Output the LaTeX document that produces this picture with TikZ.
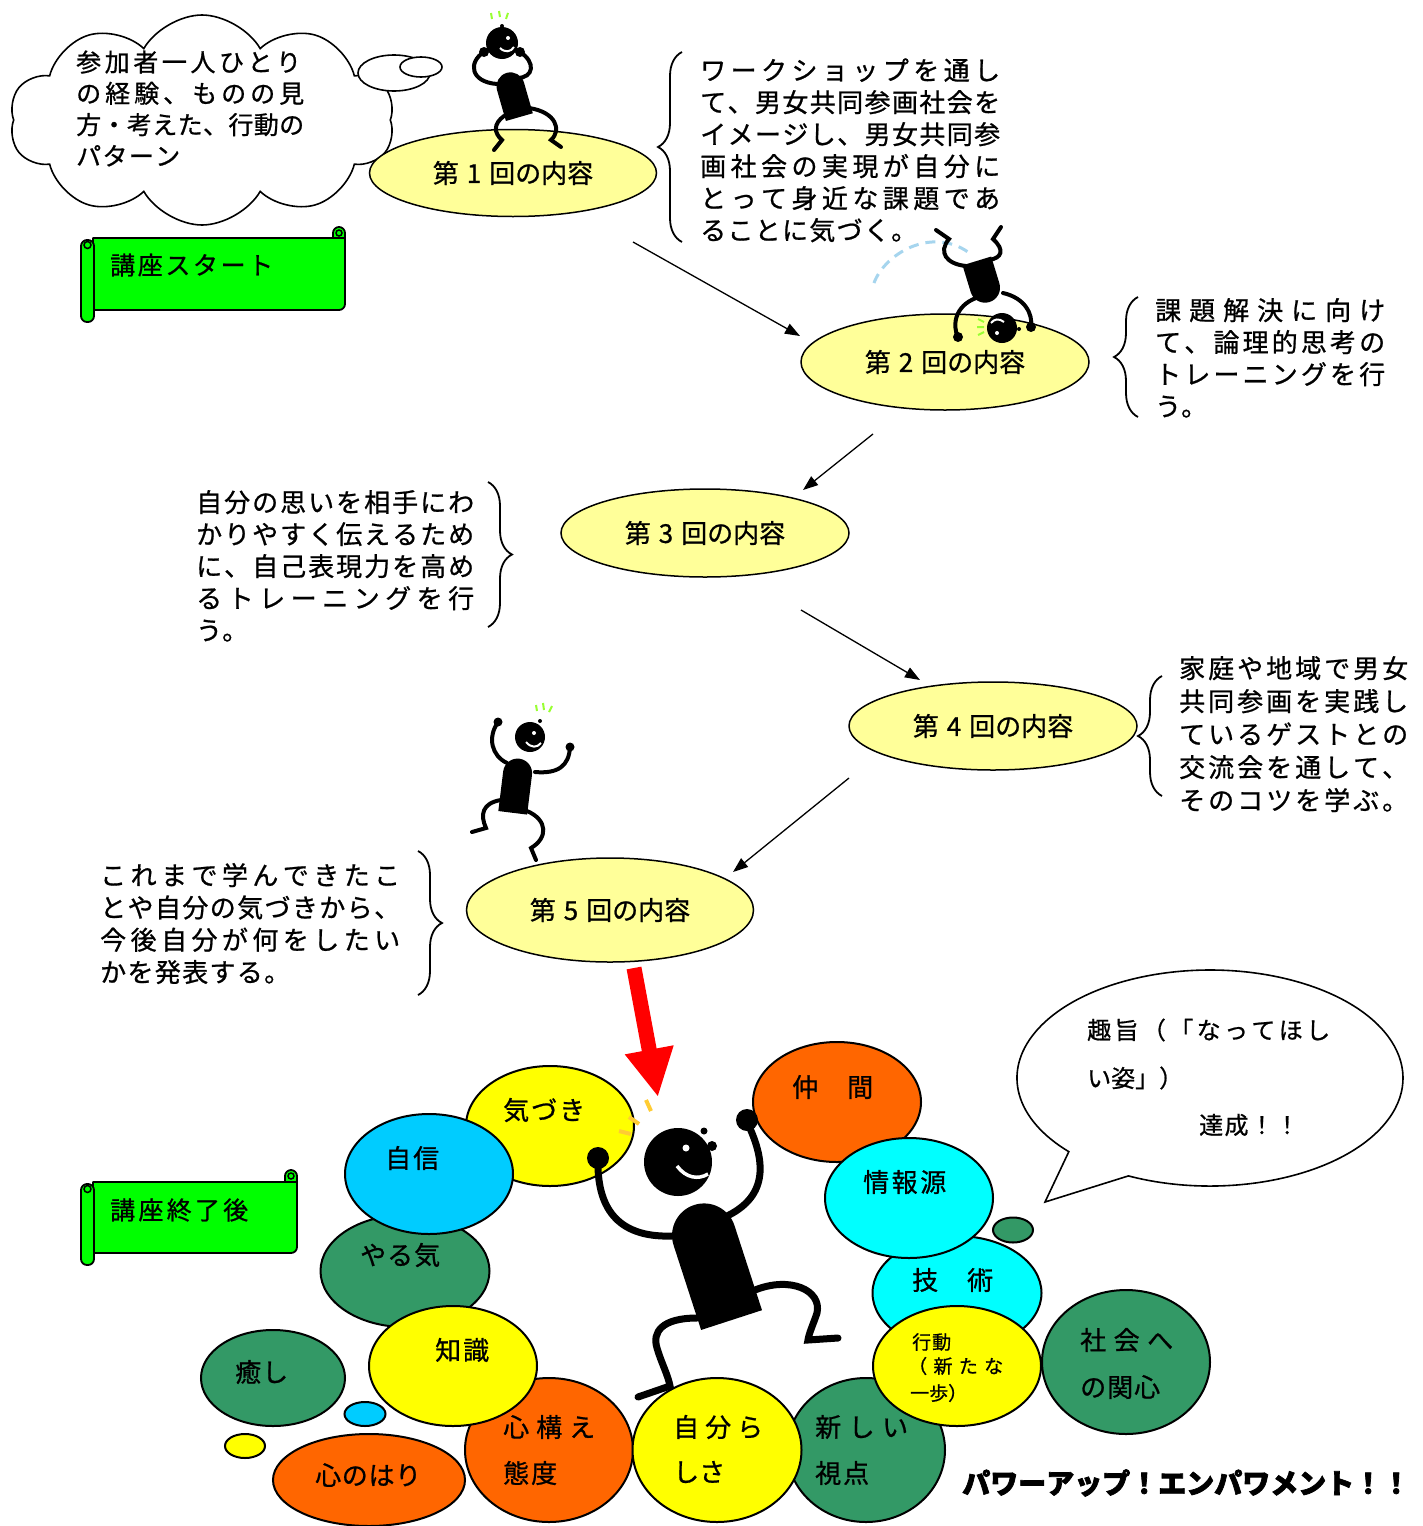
\documentclass[tikz,border=0pt]{standalone}
\usepackage{fontspec}
\setmainfont{Noto Sans CJK JP}[FakeBold=0.8]
\newfontfamily\popfont[FakeBold=2.5]{Noto Sans CJK JP}
\usetikzlibrary{shapes.geometric,shapes.symbols,arrows.meta,decorations.pathreplacing}

\definecolor{paleyellow}{HTML}{FFFF99}
\definecolor{bubyellow}{HTML}{FFFF00}
\definecolor{buborange}{HTML}{FF6600}
\definecolor{bubcyan}{HTML}{00FFFF}
\definecolor{bubsky}{HTML}{00CCFF}
\definecolor{bubgreen}{HTML}{339966}
\definecolor{scrollgreen}{HTML}{00FF00}
\definecolor{tickgreen}{HTML}{99FF33}
\definecolor{tickgold}{HTML}{FFCC33}
\definecolor{swingblue}{HTML}{A6D5EE}

% a line of Japanese text spread evenly over a given width
\makeatletter
\newcommand\jl[2]{\hbox to #1{\def\jl@sep{}\@tfor\jl@c:=#2\do{\jl@sep\jl@c\def\jl@sep{\hfil}}}}
\makeatother
% a block of lines whose baseline is the first line's
\newcommand\jblock[2]{\vtop{\baselineskip=#1\lineskiplimit=-100pt\lineskip=0pt #2}}

\begin{document}
\begin{tikzpicture}[x=1pt,y=1pt,
  session/.style={ellipse, draw, line width=1.5pt, fill=paleyellow, inner sep=0pt,
    font=\fontsize{26pt}{30pt}\selectfont},
  bub/.style={ellipse, draw, line width=2pt, inner sep=0pt},
  lab/.style={inner sep=0pt, anchor=west, font=\fontsize{26pt}{30pt}\selectfont},
  para/.style={inner sep=0pt, anchor=base west, font=\fontsize{26pt}{32pt}\selectfont},
  flow/.style={line width=1.3pt, -{Triangle[length=15pt,width=11pt]}},
  brc/.style={decorate, decoration={brace, amplitude=24pt}, line width=1.8pt},
  limb/.style={line width=4pt, line cap=round},
  biglimb/.style={line width=7pt, line cap=round},
  spark/.style={tickgreen, line width=2pt},
  scroll/.style={draw, line width=1.8pt, fill=scrollgreen, line join=round},
]
\fill[white] (0,0) rectangle (1422,-1526);
\useasboundingbox (0,0) rectangle (1422,-1526);

% ---------- thought cloud ----------
\node[cloud, cloud puffs=10, cloud puff arc=120, aspect=1.83, draw, line width=1.6pt,
  fill=white, minimum width=385pt, minimum height=210pt, inner sep=0pt] (cloud) at (202,-120) {};
\node[ellipse, draw, line width=1.6pt, fill=white, minimum width=72pt, minimum height=36pt,
  inner sep=0pt] (puff1) at (394,-73) {};
\node[ellipse, draw, line width=1.6pt, fill=white, minimum width=42pt, minimum height=20pt,
  inner sep=0pt] (puff2) at (421,-67) {};
\node[para, font=\fontsize{25pt}{31pt}\selectfont] (cloudtext) at (76,-71.5)
  {\jblock{31.3pt}{\jl{225pt}{参加者一人ひとり}\jl{228pt}{の経験、ものの見}\jl{228pt}{方・考えた、行動の}\jl{104pt}{パターン}}};

% ---------- scroll banners ----------
\draw[scroll] (93,-238) -- (345,-238) -- (345,-304) arc[start angle=0,end angle=-90,radius=6] -- (93,-310) -- cycle;
\draw[scroll] (333,-238) -- (333,-233) arc[start angle=180,end angle=0,radius=6] -- (345,-238) -- cycle;
\draw[line width=1.5pt] (339,-233) circle (3);
\draw[scroll, rounded corners=6pt] (81,-240) rectangle (94,-322);
\draw[line width=1.5pt] (87.5,-245) circle (3.5);
\node[lab, font=\fontsize{25pt}{28pt}\selectfont] (start) at (110,-265) {\jl{163pt}{講座スタート}};

\draw[scroll] (93,-1182) -- (297,-1182) -- (297,-1247) arc[start angle=0,end angle=-90,radius=6] -- (93,-1253) -- cycle;
\draw[scroll] (285,-1182) -- (285,-1176) arc[start angle=180,end angle=0,radius=6] -- (297,-1182) -- cycle;
\draw[line width=1.5pt] (291,-1176) circle (3);
\draw[scroll, rounded corners=6pt] (81,-1184) rectangle (94,-1265);
\draw[line width=1.5pt] (87.5,-1189) circle (3.5);
\node[lab, font=\fontsize{25pt}{28pt}\selectfont] (after) at (110,-1210) {\jl{138pt}{講座終了後}};

% ---------- sessions ----------
\node[session, minimum width=287pt, minimum height=87pt] (s1) at (513,-173) {第\hspace{8pt}1\hspace{8pt}回の内容};
\node[session, minimum width=288pt, minimum height=96pt] (s2) at (945,-362) {第\hspace{8pt}2\hspace{8pt}回の内容};
\node[session, minimum width=288pt, minimum height=88pt] (s3) at (705,-533) {第\hspace{8pt}3\hspace{8pt}回の内容};
\node[session, minimum width=288pt, minimum height=88pt] (s4) at (993,-726) {第\hspace{8pt}4\hspace{8pt}回の内容};
\node[session, minimum width=287pt, minimum height=104pt] (s5) at (610,-910) {第\hspace{8pt}5\hspace{8pt}回の内容};

\coordinate (a1s) at (633,-242); \coordinate (a1e) at (800,-336);
\coordinate (a2s) at (873,-434); \coordinate (a2e) at (803,-490);
\coordinate (a3s) at (801,-610); \coordinate (a3e) at (920,-680);
\coordinate (a4s) at (849,-778); \coordinate (a4e) at (733,-872);
\draw[flow] (a1s) -- (a1e);
\draw[flow] (a2s) -- (a2e);
\draw[flow] (a3s) -- (a3e);
\draw[flow] (a4s) -- (a4e);

% ---------- explanations with braces ----------
\draw[brc] (682,-242) -- (682,-52);
\node[para] (p1) at (700,-80) {\jblock{32pt}{%
  \jl{300pt}{ワークショップを通し}\jl{300pt}{て、男女共同参画社会を}\jl{300pt}{イメージし、男女共同参}%
  \jl{300pt}{画社会の実現が自分に}\jl{300pt}{とって身近な課題であ}\jl{217pt}{ることに気づく。}}};

\draw[brc] (1138,-417) -- (1138,-297);
\node[para] (p2) at (1155,-320) {\jblock{32pt}{%
  \jl{230pt}{課題解決に向け}\jl{230pt}{て、論理的思考の}\jl{230pt}{トレーニングを行}\jl{52pt}{う。}}};

\draw[brc] (488,-482) -- (488,-627);
\node[para] (p3) at (196,-512) {\jblock{32pt}{%
  \jl{278pt}{自分の思いを相手にわ}\jl{278pt}{かりやすく伝えるため}\jl{278pt}{に、自己表現力を高め}%
  \jl{278pt}{るトレーニングを行}\jl{52pt}{う。}}};

\draw[brc] (1162,-796) -- (1162,-676);
\node[para] (p4) at (1179,-678) {\jblock{33pt}{%
  \jl{229pt}{家庭や地域で男女}\jl{229pt}{共同参画を実践し}\jl{229pt}{ているゲストとの}%
  \jl{229pt}{交流会を通して、}\jl{229pt}{そのコツを学ぶ。}}};

\draw[brc] (418,-851) -- (418,-995);
\node[para] (p5) at (100,-885) {\jblock{32.3pt}{%
  \jl{300pt}{これまで学んできたこ}\jl{300pt}{とや自分の気づきから、}\jl{300pt}{今後自分が何をしたい}%
  \jl{190pt}{かを発表する。}}};

% ---------- big red arrow ----------
\coordinate (rs) at (634,-968);
\coordinate (re) at (658,-1097);
\draw[red, line width=15pt, -{Triangle[length=48pt,width=46pt]}] (rs) -- (re);

% ---------- speech bubble ----------
\coordinate (sb) at (1210,-1078);
\coordinate (sbtip) at (1045,-1202);
\draw[line width=1.6pt, fill=white, line join=miter] (sbtip) -- (1128.4,-1175.9)
  arc[start angle=245,end angle=583,x radius=193,y radius=108] -- cycle;
\node[lab, font=\fontsize{24pt}{28pt}\selectfont] (aim1) at (1087,-1030) {\jl{243pt}{趣旨（「なってほし}};
\node[lab, font=\fontsize{24pt}{28pt}\selectfont] (aim2) at (1087,-1078) {い姿」）};
\node[lab, font=\fontsize{24pt}{28pt}\selectfont] (aim3) at (1199,-1125) {\jl{100pt}{達成！！}};

% ---------- bubbles, right group ----------
\node[bub, fill=buborange, minimum width=168pt, minimum height=120pt] (nakama) at (837,-1102) {};
\node[bub, fill=bubcyan, minimum width=169pt, minimum height=114pt] (gijutsu) at (957,-1293) {};
\node[bub, fill=bubcyan, minimum width=168pt, minimum height=120pt] (joho) at (909,-1198) {};
\node[bub, fill=bubgreen, minimum width=40pt, minimum height=25pt] (dotg) at (1013,-1230) {};
\node[bub, fill=bubgreen, minimum width=168pt, minimum height=144pt] (shakai) at (1126,-1362) {};
\node[bub, fill=bubgreen, minimum width=158pt, minimum height=144pt] (shiten) at (866,-1450) {};
\node[bub, fill=bubyellow, minimum width=168pt, minimum height=120pt] (kodo) at (957,-1366) {};

% ---------- bubbles, left group ----------
\node[bub, fill=bubgreen, minimum width=169pt, minimum height=112pt] (yaruki) at (405,-1271) {};
\node[bub, fill=bubyellow, minimum width=168pt, minimum height=120pt] (kizuki) at (550,-1126) {};
\node[bub, fill=bubsky, minimum width=168pt, minimum height=120pt] (jishin) at (429,-1174) {};
\node[bub, fill=bubgreen, minimum width=144pt, minimum height=96pt] (iyashi) at (273,-1378) {};
\node[bub, fill=bubsky, minimum width=41pt, minimum height=24pt] (dots) at (365,-1414) {};
\node[bub, fill=bubyellow, minimum width=40pt, minimum height=24pt] (doty) at (245,-1446) {};
\node[bub, fill=buborange, minimum width=192pt, minimum height=92pt] (hari) at (369,-1480) {};
\node[bub, fill=buborange, minimum width=168pt, minimum height=144pt] (kokoro) at (549,-1450) {};
\node[bub, fill=bubyellow, minimum width=168pt, minimum height=120pt] (chishiki) at (453,-1366) {};
\node[bub, fill=bubyellow, minimum width=169pt, minimum height=144pt] (jibun) at (717,-1450) {};

% ---------- bubble words ----------
\node[lab] (t-nakama) at (792,-1087) {\jl{81pt}{仲間}};
\node[lab] (t-joho) at (863,-1182) {\jl{83pt}{情報源}};
\node[lab] (t-gijutsu) at (912,-1280) {\jl{81pt}{技術}};
\node[lab, font=\fontsize{19pt}{24pt}\selectfont] (t-kodo1) at (912,-1342) {\jl{39pt}{行動}};
\node[lab, font=\fontsize{19pt}{24pt}\selectfont] (t-kodo2) at (908,-1366) {\jl{95pt}{（新たな}};
\node[lab, font=\fontsize{19pt}{24pt}\selectfont] (t-kodo3) at (910,-1393) {\jl{57pt}{一歩）}};
\node[lab] (t-shakai1) at (1080,-1340) {\jl{93pt}{社会へ}};
\node[lab] (t-shakai2) at (1080,-1387) {\jl{80pt}{の関心}};
\node[lab] (t-shiten1) at (815,-1427) {\jl{93pt}{新しい}};
\node[lab] (t-shiten2) at (815,-1473) {\jl{54pt}{視点}};
\node[lab] (t-jibun1) at (673,-1427) {\jl{90pt}{自分ら}};
\node[lab] (t-jibun2) at (673,-1472) {\jl{52pt}{しさ}};
\node[lab] (t-kokoro1) at (503,-1427) {\jl{92pt}{心構え}};
\node[lab] (t-kokoro2) at (503,-1473) {\jl{54pt}{態度}};
\node[lab] (t-hari) at (315,-1475) {\jl{106pt}{心のはり}};
\node[lab] (t-chishiki) at (435,-1350) {\jl{54pt}{知識}};
\node[lab] (t-iyashi) at (235,-1372) {\jl{53pt}{癒し}};
\node[lab] (t-yaruki) at (360,-1255) {\jl{80pt}{やる気}};
\node[lab] (t-jishin) at (385,-1158) {\jl{54pt}{自信}};
\node[lab] (t-kizuki) at (503,-1110) {\jl{82pt}{気づき}};

\node[lab, font=\popfont\bfseries\fontsize{28pt}{30pt}\selectfont] (power) at (962,-1483)
  {\jl{442pt}{パワーアップ！エンパワメント！！}};

% ---------- figure on the first session ----------
\draw[spark] (491,-13) -- (492,-19) (499,-11) -- (500,-17) (508,-13) -- (506,-19);
\fill (502,-26) circle (2);
\fill (502,-43) circle (16);
\fill[white] (508,-38) circle (2);
\draw[white, line width=2pt] (500,-48) .. controls (505,-53) and (511,-52) .. (514,-47);
\fill (484,-52) circle (5);
\fill (520,-52) circle (5);
\draw[limb] (484,-52) .. controls (468,-62) and (470,-82) .. (497,-84);
\draw[limb] (520,-52) .. controls (536,-62) and (534,-78) .. (517,-78);
\fill[shift={(513,-95)}, rotate=16] (-14,-23) -- (-14,9) arc[start angle=180,end angle=0,radius=14] -- (14,-23) -- cycle;
\draw[limb] (504,-116) .. controls (493,-124) and (494,-133) .. (502,-140) -- (494,-150);
\draw[limb] (529,-108) .. controls (556,-112) and (562,-130) .. (551,-140) -- (561,-147);

% ---------- somersault figure on the second session ----------
\draw[swingblue, line width=3pt, dash pattern=on 10pt off 7pt] (874,-283) .. controls (884,-255) and (930,-226) .. (968,-252);
\draw[limb] (936,-230) -- (949,-239) .. controls (938,-252) and (946,-264) .. (966,-266);
\draw[limb] (1001,-227) -- (993,-239) .. controls (1005,-250) and (1002,-258) .. (989,-260);
\fill[shift={(983,-281)}, rotate=17] (-15,21) -- (-15,-7) arc[start angle=180,end angle=360,radius=15] -- (15,21) -- cycle;
\draw[limb] (976,-298) .. controls (955,-306) and (952,-325) .. (958,-337);
\fill (958,-337) circle (5);
\draw[limb] (1003,-293) .. controls (1025,-298) and (1033,-314) .. (1031,-327);
\fill (1031,-327) circle (5);
\fill (1002,-328) circle (15);
\fill[white] (997,-333) circle (2);
\draw[white, line width=2pt] (1004,-322) .. controls (999,-318) and (994,-319) .. (991,-323);
\fill (1019,-329) circle (2);
\draw[spark] (978,-319) -- (984,-322) (977,-327) -- (984,-327) (978,-335) -- (984,-332);

% ---------- dancing figure above the fifth session ----------
\draw[spark] (536,-705) -- (537,-711) (543,-703) -- (544,-710) (552,-706) -- (549,-712);
\fill (540,-721) circle (2);
\fill (530,-737) circle (15);
\fill[white] (534,-733) circle (2);
\draw[white, line width=2pt] (526,-742) .. controls (531,-748) and (537,-748) .. (541,-743);
\fill (498,-722) circle (4.5);
\draw[limb] (498,-722) .. controls (487,-738) and (492,-756) .. (507,-763);
\fill (570,-747) circle (4.5);
\draw[limb] (570,-747) .. controls (569,-766) and (558,-774) .. (535,-772);
\fill[shift={(516,-786)}, rotate=-7] (-14.5,-27) -- (-14.5,13) arc[start angle=180,end angle=0,radius=14.5] -- (14.5,-27) -- cycle;
\draw[limb] (501,-800) .. controls (482,-803) and (480,-815) .. (486,-828) -- (472,-832);
\draw[limb] (527,-811) .. controls (548,-820) and (548,-838) .. (531,-848) -- (536,-860);

% ---------- cheering figure among the bubbles ----------
\draw[tickgold, line width=4pt] (619,-1131) -- (631,-1134) (629,-1117) -- (639,-1124) (646,-1100) -- (651,-1111);
\fill (678,-1162) circle (34);
\fill[white] (686,-1148) circle (3.5);
\draw[white, line width=3.5pt] (677,-1166) .. controls (686,-1178) and (698,-1180) .. (708,-1174);
\fill (712,-1146) circle (5);
\fill (704,-1131) circle (3.5);
\fill (598,-1158) circle (11);
\fill (747,-1120) circle (11);
\draw[biglimb] (598,-1160) .. controls (597,-1205) and (615,-1238) .. (672,-1236);
\draw[biglimb] (747,-1122) .. controls (768,-1165) and (766,-1198) .. (725,-1217);
\fill[shift={(713,-1263)}, rotate=18] (-32,-60) -- (-32,29) arc[start angle=180,end angle=0,radius=32] -- (32,-60) -- cycle;
\draw[biglimb] (755,-1290) .. controls (790,-1276) and (822,-1290) .. (817,-1313) .. controls (813,-1325) and (809,-1333) .. (808,-1340) -- (838,-1338);
\draw[biglimb] (697,-1318) .. controls (662,-1318) and (652,-1332) .. (657,-1348) .. controls (661,-1362) and (668,-1375) .. (670,-1386) -- (638,-1397);
\end{tikzpicture}
\end{document}
